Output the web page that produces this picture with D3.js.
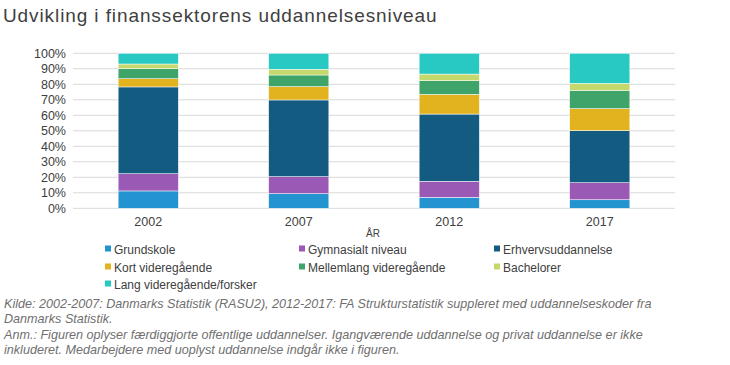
<!DOCTYPE html>
<html><head><meta charset="utf-8">
<script src="https://cdn.jsdelivr.net/npm/d3@7"></script>
<style>body{margin:0;background:#fff}svg{display:block;font-family:"Liberation Sans",Arial,sans-serif}</style>
</head><body><svg id="c" width="730" height="365"></svg>
<script>
const years = ["2002","2007","2012","2017"];
const seriesNames = ["Grundskole","Gymnasialt niveau","Erhvervsuddannelse","Kort videregående","Mellemlang videregående","Bachelorer","Lang videregående/forsker"];
const colors = ["#2394cf","#9a59b4","#135b80","#e2b31f","#3fa46a","#c5d86c","#28c8c3"];
const grundskole = [11.2, 9.4, 7.1, 5.5];
const gymnasialt = [11.1, 11.0, 10.3, 11.0];
const erhverv = [56.0, 49.5, 43.4, 33.6];
const kort = [5.3, 8.6, 12.7, 14.2];
const mellemlang = [6.5, 7.5, 8.8, 11.8];
const bachelor = [3.0, 3.7, 4.3, 4.5];
const lang = [6.9, 10.3, 13.4, 19.4];
const yTicks = [0,10,20,30,40,50,60,70,80,90,100];

const allSeries = [grundskole, gymnasialt, erhverv, kort, mellemlang, bachelor, lang];
const rows = years.map((yr,i)=>{const r={year:yr}; seriesNames.forEach((s,j)=>r[s]=allSeries[j][i]); return r;});
const stack = d3.stack().keys(seriesNames)(rows);

const svg = d3.select("#c");
const pL=73, pR=675, pT=53.3, pB=208.3;
const x = d3.scaleBand().domain(years).range([pL,pR]).paddingInner(0.6).paddingOuter(0.3);
const y = d3.scaleLinear().domain([0,100]).range([pB,pT]);

svg.append("text").attr("x",3).attr("y",22).attr("font-size",19).attr("letter-spacing",0.9).attr("fill","#404040").text("Udvikling i finanssektorens uddannelsesniveau");

svg.append("g").selectAll("line").data(yTicks).join("line")
 .attr("x1",pL).attr("x2",pR).attr("y1",d=>y(d)).attr("y2",d=>y(d))
 .attr("stroke","#d9d9d9").attr("stroke-width",1);

const yAxis = svg.append("g").attr("transform",`translate(${pL},0)`)
 .call(d3.axisLeft(y).tickValues(yTicks).tickFormat(d=>d+"%").tickSize(0).tickPadding(7));
yAxis.select(".domain").remove();
yAxis.selectAll("text").attr("font-size",12.5).attr("fill","#404040").attr("font-family","Liberation Sans, Arial, sans-serif");

svg.append("g").selectAll("g").data(stack).join("g").attr("fill",(d,i)=>colors[i])
 .selectAll("rect").data(d=>d).join("rect")
 .attr("x",d=>x(d.data.year)).attr("width",x.bandwidth())
 .attr("y",d=>y(d[1])).attr("height",d=>y(d[0])-y(d[1]))
 .attr("stroke","#ffffff").attr("stroke-width",0.5);

const xAxis = svg.append("g").attr("transform",`translate(0,${pB})`)
 .call(d3.axisBottom(x).tickSize(0).tickPadding(9));
xAxis.select(".domain").remove();
xAxis.selectAll("text").attr("font-size",12.5).attr("fill","#404040").attr("font-family","Liberation Sans, Arial, sans-serif");

svg.append("text").attr("x",373).attr("y",237).attr("text-anchor","middle").attr("font-size",10).attr("fill","#404040").text("ÅR");

const legX=[105,299,494], legY=[249,267,284];
const leg = svg.append("g").selectAll("g").data(seriesNames).join("g")
 .attr("transform",(d,i)=>`translate(${legX[i%3]},${legY[Math.floor(i/3)]})`);
leg.append("rect").attr("x",0).attr("y",-3.5).attr("width",6).attr("height",6).attr("fill",(d,i)=>colors[i]);
leg.append("text").attr("x",9).attr("y",4.5).attr("font-size",12).attr("fill","#404040").text(d=>d);

const notes = ["Kilde: 2002-2007: Danmarks Statistik (RASU2), 2012-2017: FA Strukturstatistik suppleret med uddannelseskoder fra",
"Danmarks Statistik.",
"Anm.: Figuren oplyser færdiggjorte offentlige uddannelser. Igangværende uddannelse og privat uddannelse er ikke",
"inkluderet. Medarbejdere med uoplyst uddannelse indgår ikke i figuren."];
svg.append("g").selectAll("text").data(notes).join("text")
 .attr("x",4).attr("y",(d,i)=>[308,323,339,354][i]).attr("font-size",12.6).attr("font-style","italic").attr("fill","#6f6f6f").text(d=>d);
</script></body></html>
